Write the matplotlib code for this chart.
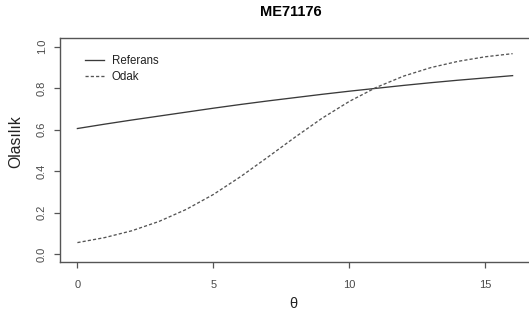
import matplotlib
matplotlib.use("Agg")
import matplotlib.pyplot as plt

plt.rcParams['font.family'] = ['Liberation Sans', 'DejaVu Sans']

theta = [0, 1, 2, 3, 4, 5, 6, 7, 8, 9, 10, 11, 12, 13, 14, 15, 16]
referans = [0.605, 0.626, 0.646, 0.665, 0.684, 0.703, 0.721, 0.738, 0.754,
            0.770, 0.785, 0.799, 0.813, 0.826, 0.838, 0.849, 0.860]
odak = [0.055, 0.079, 0.112, 0.157, 0.215, 0.287, 0.373, 0.467, 0.563,
        0.655, 0.736, 0.804, 0.858, 0.899, 0.929, 0.951, 0.966]
xticks = [0, 5, 10, 15]
yticks = [0.0, 0.2, 0.4, 0.6, 0.8, 1.0]
ytick_labels = ["0.0", "0.2", "0.4", "0.6", "0.8", "1.0"]

W, H = 529, 320
fig = plt.figure(figsize=(W / 100, H / 100), dpi=100)
left, right, top, bottom = 60, 530, 38.3, 262.3
ax = fig.add_axes([left / W, 1 - bottom / H, (right - left) / W, (bottom - top) / H])

ax.plot(theta, referans, color='#3a3a3a', lw=0.95, ls='-', label='Referans')
ax.plot(theta, odak, color='#555555', lw=0.95, ls=(0, (2.4, 1.6)), label='Odak')

ax.set_xlim(-0.64, 16.64)
ax.set_ylim(-0.04, 1.04)
ax.set_xticks(xticks)
ax.set_yticks(yticks)
ax.set_yticklabels(ytick_labels)

axis_col = '#555555'
for s in ax.spines.values():
    s.set_color(axis_col)
    s.set_linewidth(1.0)
ax.tick_params(axis='both', direction='out', length=4.5, width=0.9, color=axis_col,
               labelsize=8, labelcolor='#4a4a4a')
ax.tick_params(axis='x', pad=8.5)
ax.tick_params(axis='y', pad=5.0, labelrotation=90)
for lab in ax.get_yticklabels():
    lab.set_va('center')

fig.text(291 / W, 1 - 12 / H, 'ME71176', ha='center', va='center',
         fontsize=10.5, fontweight='bold', color='black')
fig.text(293 / W, 1 - 304 / H, 'θ', ha='center', va='center', fontsize=10.5, color='#222222')
fig.text(16 / W, 1 - 142 / H, 'Olasılık', ha='center', va='center', rotation=90,
         fontsize=11.3, color='#222222')

leg = ax.legend(loc='upper left',
                bbox_to_anchor=((82 - left) / (right - left), 1 - (52 - top) / (bottom - top)),
                frameon=False, fontsize=8.3, handlelength=1.65, handletextpad=0.65,
                labelspacing=0.3, borderaxespad=0, borderpad=0.3)
for t in leg.get_texts():
    t.set_color('#222222')

fig.savefig('out.png', dpi=100)
